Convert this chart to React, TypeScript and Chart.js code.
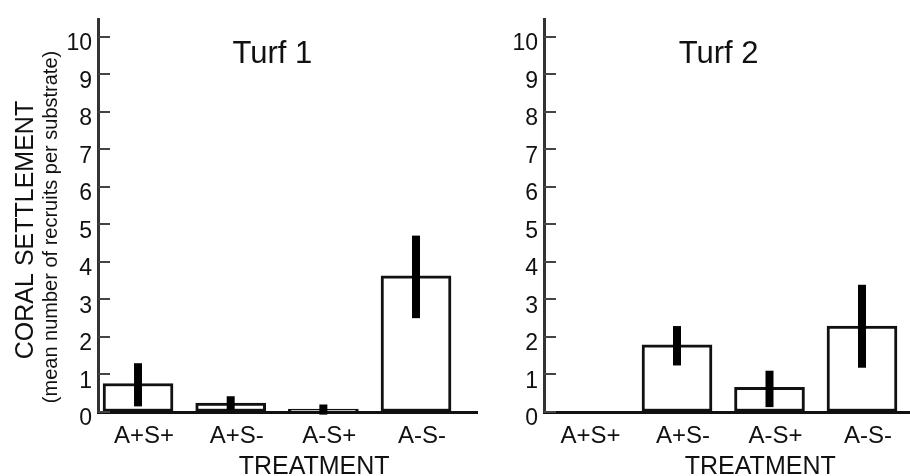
import React, { useEffect, useRef } from 'react';
import { Chart, registerables } from 'chart.js';

Chart.register(...registerables);

// ---- data ----
const categories = ['A+S+', 'A+S-', 'A-S+', 'A-S-'];
const turf1Means = [0.76, 0.24, 0.08, 3.63];
const turf1Low = [0.15, 0.05, -0.07, 2.5];
const turf1High = [1.3, 0.42, 0.2, 4.7];
const turf2Means = [0, 1.79, 0.66, 2.29];
const turf2Low = [0, 1.24, 0.13, 1.18];
const turf2High = [0, 2.29, 1.1, 3.39];
const yTicks = [0, 1, 2, 3, 4, 5, 6, 7, 8, 9, 10];
const panelTitles = ['Turf 1', 'Turf 2'];
const yTitle = 'CORAL SETTLEMENT';
const ySubtitle = '(mean number of recruits per substrate)';
const xTitle = 'TREATMENT';

const FONT = '"Liberation Sans", Arial, sans-serif';
const TEXT = '#111';

type Panel = {
  title: string;
  means: number[];
  low: number[];
  high: number[];
  yWidth: number;
  padRight: number;
  xmin: number;
  xmax: number;
  showYTitle: boolean;
};

function makeChart(canvas: HTMLCanvasElement, p: Panel) {
  const decor = {
    id: 'decor',
    afterDatasetsDraw(chart: any) {
      const ctx = chart.ctx;
      const xs = chart.scales.x;
      const ys = chart.scales.y;
      const area = chart.chartArea;
      const meta = chart.getDatasetMeta(0);
      ctx.save();
      // error bars
      ctx.strokeStyle = '#000';
      ctx.lineWidth = 8;
      ctx.lineCap = 'butt';
      p.means.forEach((_, i) => {
        if (p.high[i] === p.low[i]) return;
        const x = meta.data[i].x;
        ctx.beginPath();
        ctx.moveTo(x, ys.getPixelForValue(p.low[i]));
        ctx.lineTo(x, ys.getPixelForValue(p.high[i]));
        ctx.stroke();
      });
      // inward y ticks
      ctx.strokeStyle = '#444';
      ctx.lineWidth = 2;
      ys.ticks.forEach((t: any) => {
        const py = Math.round(ys.getPixelForValue(t.value));
        ctx.beginPath();
        ctx.moveTo(area.left, py);
        ctx.lineTo(area.left + 12, py);
        ctx.stroke();
      });
      // panel title
      ctx.fillStyle = TEXT;
      ctx.font = `31px ${FONT}`;
      ctx.textAlign = 'center';
      ctx.textBaseline = 'alphabetic';
      ctx.fillText(p.title, xs.getPixelForValue(1.45), 63);
      // x title
      ctx.font = `25px ${FONT}`;
      ctx.fillText(xTitle, xs.getPixelForValue(1.9), 474);
      // y titles
      if (p.showYTitle) {
        ctx.save();
        ctx.translate(33, 230);
        ctx.rotate(-Math.PI / 2);
        ctx.font = `25px ${FONT}`;
        ctx.fillText(yTitle, 0, 0);
        ctx.restore();
        ctx.save();
        ctx.translate(57, 227);
        ctx.rotate(-Math.PI / 2);
        ctx.font = `20px ${FONT}`;
        ctx.fillText(ySubtitle, 0, 0);
        ctx.restore();
      }
      ctx.restore();
    },
  };

  return new Chart(canvas, {
    type: 'bar',
    data: {
      datasets: [
        {
          data: categories.map((_, i) => ({ x: i, y: p.means[i] })) as any,
          backgroundColor: '#fff',
          borderColor: '#111',
          borderWidth: 3,
          borderSkipped: false,
          barThickness: 70,
        },
      ],
    },
    options: {
      animation: false,
      responsive: false,
      maintainAspectRatio: false,
      layout: { padding: { top: 15, left: 0, right: p.padRight, bottom: 0 } },
      plugins: { legend: { display: false }, tooltip: { enabled: false }, title: { display: false } },
      scales: {
        x: {
          type: 'linear',
          offset: false,
          min: p.xmin,
          max: p.xmax,
          afterBuildTicks: (s: any) => {
            s.ticks = categories.map((_, i) => ({ value: i }));
          },
          afterFit: (s: any) => {
            s.height = 64;
          },
          ticks: {
            callback: (v: any) => categories[v] ?? '',
            font: { family: FONT, size: 24 },
            color: TEXT,
            padding: 10,
            labelOffset: 6,
            autoSkip: false,
            maxRotation: 0,
          },
          grid: { display: true, offset: false, drawOnChartArea: false, drawTicks: false },
          border: { display: true, color: '#111', width: 3 },
        },
        y: {
          type: 'linear',
          min: 0,
          max: 10.45,
          afterBuildTicks: (s: any) => {
            s.ticks = yTicks.map((v) => ({ value: v }));
          },
          afterFit: (s: any) => {
            s.width = p.yWidth;
          },
          ticks: {
            font: { family: FONT, size: 23 },
            color: TEXT,
            padding: 6,
            labelOffset: 7,
          },
          grid: { display: true, drawOnChartArea: false, drawTicks: false },
          border: { display: true, color: '#333', width: 3 },
        },
      },
    } as any,
    plugins: [decor],
  });
}

export default function App() {
  const leftRef = useRef<HTMLCanvasElement>(null);
  const rightRef = useRef<HTMLCanvasElement>(null);

  useEffect(() => {
    const c1 = makeChart(leftRef.current!, {
      title: panelTitles[0],
      means: turf1Means,
      low: turf1Low,
      high: turf1High,
      yWidth: 98,
      padRight: 3,
      xmin: -0.432,
      xmax: 3.658,
      showYTitle: true,
    });
    const c2 = makeChart(rightRef.current!, {
      title: panelTitles[1],
      means: turf2Means,
      low: turf2Low,
      high: turf2High,
      yWidth: 64,
      padRight: 0,
      xmin: -0.438,
      xmax: 3.519,
      showYTitle: false,
    });
    return () => {
      c1.destroy();
      c2.destroy();
    };
  }, []);

  return (
    <div style={{ position: 'fixed', left: 0, top: 0, width: 910, height: 476, background: '#fff' }}>
      <canvas ref={leftRef} width={480} height={476} style={{ position: 'absolute', left: 0, top: 0 }} />
      <canvas ref={rightRef} width={430} height={476} style={{ position: 'absolute', left: 480, top: 0 }} />
    </div>
  );
}
